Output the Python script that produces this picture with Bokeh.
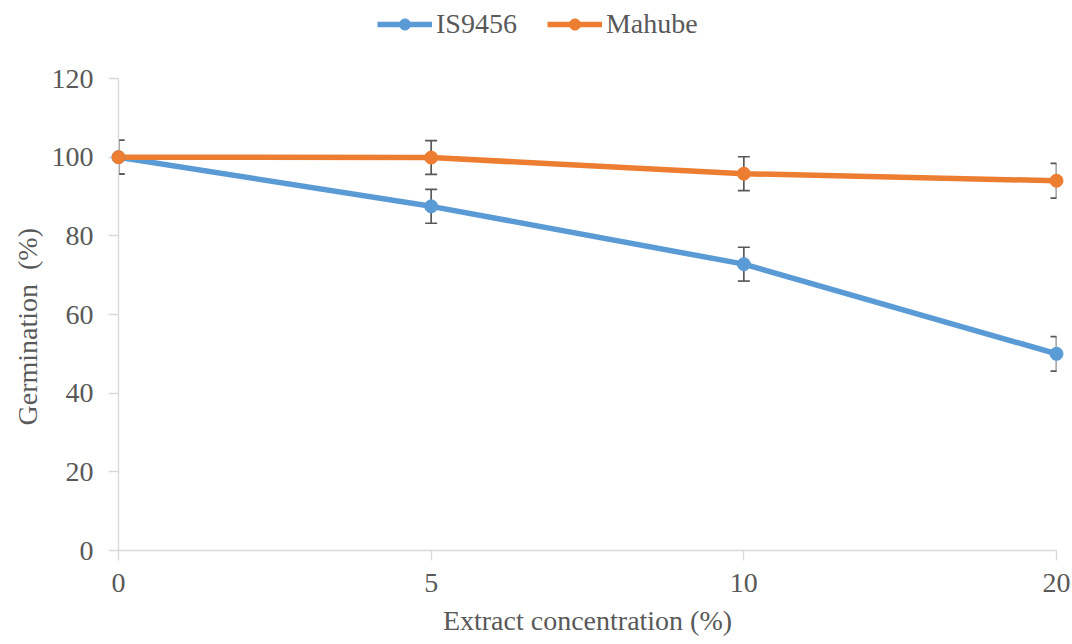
from bokeh.plotting import figure
from bokeh.models import Legend, LegendItem, FixedTicker, Range1d, Title
from bokeh.embed import file_html
from bokeh.resources import INLINE

# ---- data ----
categories = ["0", "5", "10", "20"]
is9456 = [100.0, 87.5, 72.8, 50.0]
is9456_err = [4.3, 4.3, 4.3, 4.4]
mahube = [100.0, 99.9, 95.8, 94.0]
mahube_err = [4.3, 4.3, 4.3, 4.4]
y_ticks = [0, 20, 40, 60, 80, 100, 120]
x_title = "Extract concentration (%)"
y_title = "Germination\u00a0 (%)"

# ---- style ----
FONT = "Liberation Serif"
TXT = "#595959"
AXIS = "#D9D9D9"
BLUE = "#5B9BD5"
ORANGE = "#ED7D31"
ERR = "#595959"
W, H = 1072, 644
LEFT, RIGHT, BOTTOM = 118, 16, 94
AXIS_TOP_PX = 78          # pixel row where the top y tick sits
FRAME_W = W - LEFT - RIGHT
FRAME_H = H - BOTTOM
CAP_PX = 6

xs = list(range(len(categories)))
cap = CAP_PX * (len(categories) - 1) / FRAME_W
# extend the frame upwards so the legend can live inside it
y_end = y_ticks[-1] * FRAME_H / (FRAME_H - AXIS_TOP_PX)

p = figure(width=W, height=H, output_backend="svg", toolbar_location=None,
           x_range=Range1d(0, len(categories) - 1), y_range=Range1d(y_ticks[0], y_end),
           min_border_left=LEFT, min_border_right=RIGHT, min_border_top=0, min_border_bottom=BOTTOM)
p.outline_line_color = None
p.grid.visible = False
p.background_fill_color = "white"
p.border_fill_color = "white"

# axes
p.xaxis.ticker = FixedTicker(ticks=xs)
p.xaxis.major_label_overrides = {i: c for i, c in zip(xs, categories)}
p.yaxis.ticker = FixedTicker(ticks=y_ticks)
p.yaxis.bounds = (y_ticks[0], y_ticks[-1])
for ax in (p.xaxis[0], p.yaxis[0]):
    ax.axis_line_color = AXIS
    ax.axis_line_width = 1.3
    ax.major_tick_line_color = AXIS
    ax.major_tick_line_width = 1.3
    ax.major_tick_in = 0
    ax.major_tick_out = 10
    ax.minor_tick_line_color = None
    ax.major_label_text_font = FONT
    ax.major_label_text_font_size = "28px"
    ax.major_label_text_color = TXT
    ax.axis_label_text_font = FONT
    ax.axis_label_text_font_size = "28px"
    ax.axis_label_text_font_style = "normal"
    ax.axis_label_text_color = TXT
p.xaxis.axis_label = x_title
p.xaxis.major_label_standoff = 13
p.xaxis.axis_label_standoff = 10
p.yaxis.major_label_standoff = 15

# y title placed to be centred on the 0-120 part of the axis
y_lab = Title(text=y_title, align="left", offset=125, standoff=12,
              text_font=FONT, text_font_size="28px", text_font_style="normal", text_color=TXT)
p.add_layout(y_lab, "left")


def series(vals, errs, color):
    ln = p.line(xs, vals, line_color=color, line_width=5.5)
    lo = [v - e for v, e in zip(vals, errs)]
    hi = [v + e for v, e in zip(vals, errs)]
    p.segment(xs, lo, xs, hi, line_color=ERR, line_width=1.7)
    p.segment([x - cap for x in xs], hi, [x + cap for x in xs], hi, line_color=ERR, line_width=1.7)
    p.segment([x - cap for x in xs], lo, [x + cap for x in xs], lo, line_color=ERR, line_width=1.7)
    sc = p.scatter(xs, vals, marker="circle", size=13, fill_color=color, line_color=color, level="overlay")
    return ln, sc


b_ln, b_sc = series(is9456, is9456_err, BLUE)
o_ln, o_sc = series(mahube, mahube_err, ORANGE)

legend = Legend(items=[LegendItem(label="IS9456", renderers=[b_ln, b_sc]),
                       LegendItem(label="Mahube", renderers=[o_ln, o_sc])],
                orientation="horizontal", location=(259, FRAME_H - 40),
                padding=0, margin=0, spacing=30, label_standoff=4,
                glyph_width=55, glyph_height=28,
                label_text_font=FONT, label_text_font_size="28px",
                label_text_font_style="normal", label_text_color=TXT,
                border_line_alpha=0, background_fill_alpha=0)
p.add_layout(legend, "center")

open("out.html", "w").write(file_html(p, INLINE))
